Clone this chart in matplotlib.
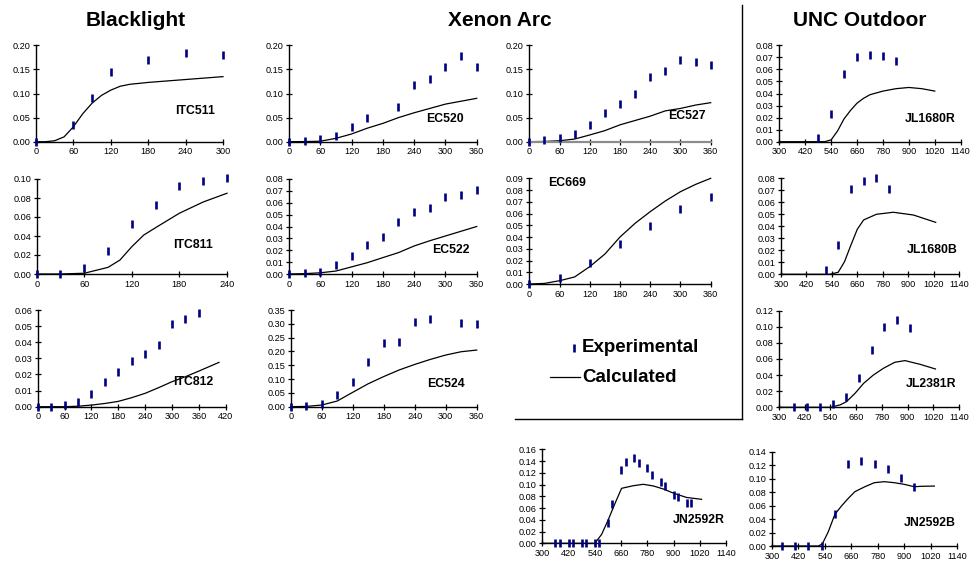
import numpy as np
import matplotlib
matplotlib.use("Agg")
import matplotlib.pyplot as plt
from matplotlib.lines import Line2D

plt.rcParams['font.family'] = ['Liberation Sans', 'DejaVu Sans']

W, H = 973, 565

# ---------------- data ----------------
# Blacklight
itc511_exp_t = [0, 60, 90, 120, 180, 240, 300]
itc511_exp_y = [0.0, 0.035, 0.090, 0.144, 0.170, 0.185, 0.179]
itc511_calc_t = [0, 15, 30, 45, 60, 75, 90, 105, 120, 135, 150, 165, 180, 210, 240, 270, 300]
itc511_calc_y = [0, 0, 0.002, 0.010, 0.031, 0.058, 0.080, 0.096, 0.107, 0.115, 0.119, 0.121,
                 0.123, 0.126, 0.129, 0.132, 0.135]

itc811_exp_t = [0, 30, 60, 90, 120, 150, 180, 210, 240]
itc811_exp_y = [0.0, 0.0, 0.006, 0.024, 0.053, 0.073, 0.093, 0.098, 0.101]
itc811_calc_t = [0, 30, 60, 90, 105, 120, 135, 150, 180, 210, 240]
itc811_calc_y = [0, 0, 0.0008, 0.007, 0.0147, 0.0288, 0.041, 0.0488, 0.064, 0.0758, 0.085]

itc812_exp_t = [0, 30, 60, 90, 120, 150, 180, 210, 240, 270, 300, 330, 360]
itc812_exp_y = [0.0, 0.0, 0.001, 0.0027, 0.0079, 0.0155, 0.0217, 0.0283, 0.0325, 0.0383,
                0.0513, 0.0542, 0.0583]
itc812_calc_t = [0, 60, 90, 120, 150, 180, 210, 240, 270, 300, 330, 360, 405]
itc812_calc_y = [0, 0, 0.0003, 0.001, 0.002, 0.0033, 0.0056, 0.0083, 0.0118, 0.0155, 0.0186,
                 0.0221, 0.0275]

# Xenon Arc
ec520_exp_t = [0, 30, 60, 90, 120, 150, 210, 240, 270, 300, 330, 360]
ec520_exp_y = [0.0, 0.001, 0.005, 0.012, 0.031, 0.050, 0.073, 0.118, 0.130, 0.154, 0.178, 0.154]
ec520_calc_t = [0, 30, 60, 90, 120, 150, 180, 210, 240, 270, 300, 330, 360]
ec520_calc_y = [0, 0.0003, 0.001, 0.007, 0.016, 0.028, 0.038, 0.050, 0.060, 0.069, 0.078,
                0.084, 0.090]

ec527_exp_t = [0, 30, 60, 90, 120, 150, 180, 210, 240, 270, 300, 330, 360]
ec527_exp_y = [0.0, 0.003, 0.007, 0.016, 0.035, 0.059, 0.078, 0.100, 0.135, 0.147, 0.170,
               0.165, 0.160]
ec527_calc_t = [0, 30, 60, 90, 120, 150, 180, 210, 240, 270, 300, 330, 360]
ec527_calc_y = [0, 0.0005, 0.002, 0.0055, 0.014, 0.023, 0.035, 0.044, 0.053, 0.064, 0.069,
                0.076, 0.081]

ec522_exp_t = [0, 30, 60, 90, 120, 150, 180, 210, 240, 270, 300, 330, 360]
ec522_exp_y = [0.0, 0.0006, 0.0014, 0.008, 0.0154, 0.0244, 0.031, 0.0435, 0.052, 0.056,
               0.065, 0.0665, 0.071]
ec522_calc_t = [0, 30, 60, 90, 120, 150, 180, 210, 240, 270, 300, 330, 360]
ec522_calc_y = [0, 0.0003, 0.001, 0.0025, 0.006, 0.0095, 0.0138, 0.018, 0.0236, 0.028,
                0.032, 0.036, 0.040]

ec669_exp_t = [0, 60, 120, 180, 240, 300, 360]
ec669_exp_y = [0.0, 0.0054, 0.0176, 0.034, 0.049, 0.064, 0.074]
ec669_calc_t = [0, 30, 60, 90, 120, 150, 180, 210, 240, 270, 300, 330, 360]
ec669_calc_y = [0, 0.0005, 0.0028, 0.006, 0.0148, 0.0255, 0.040, 0.0517, 0.0616, 0.0707,
                0.0786, 0.0848, 0.090]

ec524_exp_t = [0, 30, 60, 90, 120, 150, 180, 210, 240, 270, 330, 360]
ec524_exp_y = [0.0, 0.0024, 0.011, 0.042, 0.0905, 0.163, 0.229, 0.233, 0.308, 0.317, 0.304,
               0.298]
ec524_calc_t = [0, 30, 60, 90, 120, 150, 180, 210, 240, 270, 300, 330, 360]
ec524_calc_y = [0, 0.001, 0.006, 0.0205, 0.052, 0.083, 0.109, 0.133, 0.153, 0.171, 0.187,
                0.199, 0.205]

# UNC Outdoor
jl1680r_exp_t = [480, 540, 600, 660, 720, 780, 840]
jl1680r_exp_y = [0.0028, 0.023, 0.056, 0.0706, 0.072, 0.071, 0.067]
jl1680r_calc_t = [300, 420, 510, 540, 570, 600, 630, 660, 690, 720, 780, 840, 900, 960, 1020]
jl1680r_calc_y = [0, 0, 0, 0.0015, 0.009, 0.019, 0.026, 0.032, 0.036, 0.039, 0.042, 0.044,
                  0.045, 0.044, 0.042]

jl1680b_exp_t = [510, 570, 630, 690, 750, 810]
jl1680b_exp_y = [0.0036, 0.0244, 0.0708, 0.0778, 0.080, 0.0708]
jl1680b_calc_t = [300, 420, 530, 570, 600, 630, 660, 690, 750, 830, 925, 1030]
jl1680b_calc_y = [0, 0, 0, 0.0017, 0.0106, 0.0244, 0.0375, 0.0453, 0.050, 0.0517, 0.0494,
                  0.0433]

jl2381r_exp_t = [372, 432, 492, 552, 612, 672, 732, 792, 852, 912]
jl2381r_exp_y = [0.0, 0.0, 0.0, 0.0037, 0.0132, 0.036, 0.071, 0.0993, 0.109, 0.0989]
jl2381r_calc_t = [300, 420, 540, 585, 615, 655, 695, 740, 787, 840, 888, 958, 1030]
jl2381r_calc_y = [0, 0, 0, 0.003, 0.007, 0.0174, 0.0298, 0.040, 0.0484, 0.0559, 0.058,
                  0.0534, 0.0476]

jn2592r_exp_t = [360, 380, 420, 440, 480, 500, 540, 560, 600, 620, 660, 680, 720, 740,
                 780, 800, 840, 860, 900, 920, 960, 980]
jn2592r_exp_y = [0, 0, 0, 0, 0, 0, 0, 0, 0.035, 0.067, 0.125, 0.139, 0.145, 0.136,
                 0.128, 0.117, 0.105, 0.098, 0.083, 0.078, 0.069, 0.069]
jn2592r_calc_t = [300, 420, 540, 571, 601, 632, 662, 715, 761, 807, 852, 901, 959, 1027]
jn2592r_calc_y = [0, 0, 0, 0.0153, 0.040, 0.068, 0.0936, 0.098, 0.1004, 0.0976, 0.0925,
                  0.085, 0.078, 0.0749]

jn2592b_exp_t = [345, 405, 465, 525, 585, 645, 705, 765, 825, 885, 945]
jn2592b_exp_y = [0, 0, 0, 0, 0.047, 0.1217, 0.1267, 0.1217, 0.1138, 0.1004, 0.088]
jn2592b_calc_t = [300, 420, 510, 528, 555, 585, 615, 646, 676, 721, 764, 809, 854, 900,
                  945, 975, 1036]
jn2592b_calc_y = [0, 0, 0, 0.003, 0.021, 0.047, 0.0594, 0.0708, 0.0807, 0.088, 0.094,
                  0.0955, 0.094, 0.0915, 0.088, 0.0886, 0.089]

group_titles = ["Blacklight", "Xenon Arc", "UNC Outdoor"]

# ---------------- layout helpers ----------------
fig = plt.figure(figsize=(W / 100, H / 100), dpi=100)


def add_axes_px(l, t, r, b):
    return fig.add_axes([l / W, 1 - b / H, (r - l) / W, (b - t) / H])


EXP_COLOR = "#000080"
MS, MEW = 5.6, 1.9


def panel(box, name, exp_t, exp_y, calc_t, calc_y, xlim, xstep, ylim, ystep, lab_pos,
          lab_ha="center", bottom_color="black"):
    ax = add_axes_px(*box)
    ax.plot(calc_t, calc_y, color="black", lw=0.9, zorder=2, clip_on=False)
    ax.plot(exp_t, exp_y, ls="none", marker="|", ms=MS, mew=MEW, color=EXP_COLOR,
            zorder=3, clip_on=False)
    ax.set_xlim(*xlim)
    ax.set_ylim(*ylim)
    ax.set_xticks(np.arange(xlim[0], xlim[1] + 1e-9, xstep))
    ax.set_yticks(np.arange(ylim[0], ylim[1] + 1e-9, ystep))
    ax.yaxis.set_major_formatter(matplotlib.ticker.FormatStrFormatter("%.2f"))
    ax.xaxis.set_major_formatter(matplotlib.ticker.FormatStrFormatter("%d"))
    for s in ("top", "right"):
        ax.spines[s].set_visible(False)
    ax.spines["left"].set_linewidth(1.0)
    ax.spines["bottom"].set_linewidth(1.0 if bottom_color == "black" else 1.6)
    ax.spines["bottom"].set_color(bottom_color)
    ax.tick_params(axis="both", direction="inout", length=4, width=0.9,
                   labelsize=6.6, pad=2, colors="black")
    ax.patch.set_alpha(0)
    ax.text(lab_pos[0], lab_pos[1], name, transform=ax.transAxes, ha=lab_ha, va="center",
            fontsize=8.8, fontweight="bold")
    return ax


# Row 1
panel((36, 45.3, 223, 141.7), "ITC511", itc511_exp_t, itc511_exp_y, itc511_calc_t,
      itc511_calc_y, (0, 300), 60, (0, 0.20), 0.05, (0.85, 0.32))
panel((289, 45.3, 476.7, 141.7), "EC520", ec520_exp_t, ec520_exp_y, ec520_calc_t,
      ec520_calc_y, (0, 360), 60, (0, 0.20), 0.05, (0.83, 0.24))
panel((529.3, 45.3, 710.7, 141.7), "EC527", ec527_exp_t, ec527_exp_y, ec527_calc_t,
      ec527_calc_y, (0, 360), 60, (0, 0.20), 0.05, (0.87, 0.27), bottom_color="#8c8c8c")
panel((779.3, 45.3, 960.7, 141.7), "JL1680R", jl1680r_exp_t, jl1680r_exp_y, jl1680r_calc_t,
      jl1680r_calc_y, (300, 1140), 120, (0, 0.08), 0.01, (0.83, 0.24))

# Row 2
panel((36.7, 179, 227, 274), "ITC811", itc811_exp_t, itc811_exp_y, itc811_calc_t,
      itc811_calc_y, (0, 240), 60, (0, 0.10), 0.02, (0.82, 0.30))
panel((289, 179, 476.7, 274), "EC522", ec522_exp_t, ec522_exp_y, ec522_calc_t,
      ec522_calc_y, (0, 360), 60, (0, 0.08), 0.01, (0.86, 0.25))
panel((529.3, 178.3, 710.7, 284), "EC669", ec669_exp_t, ec669_exp_y, ec669_calc_t,
      ec669_calc_y, (0, 360), 60, (0, 0.09), 0.01, (0.21, 0.96))
panel((781, 178.3, 959, 274.3), "JL1680B", jl1680b_exp_t, jl1680b_exp_y, jl1680b_calc_t,
      jl1680b_calc_y, (300, 1140), 120, (0, 0.08), 0.01, (0.85, 0.25))

# Row 3
panel((37.7, 310, 225.7, 406.7), "ITC812", itc812_exp_t, itc812_exp_y, itc812_calc_t,
      itc812_calc_y, (0, 420), 60, (0, 0.06), 0.01, (0.83, 0.26))
panel((290.7, 310, 476.7, 406.7), "EC524", ec524_exp_t, ec524_exp_y, ec524_calc_t,
      ec524_calc_y, (0, 360), 60, (0, 0.35), 0.05, (0.835, 0.23))
panel((779, 310.7, 959, 407.3), "JL2381R", jl2381r_exp_t, jl2381r_exp_y, jl2381r_calc_t,
      jl2381r_calc_y, (300, 1140), 120, (0, 0.12), 0.02, (0.845, 0.24))

# Row 4
panel((542.3, 449.3, 726.3, 543.3), "JN2592R", jn2592r_exp_t, jn2592r_exp_y, jn2592r_calc_t,
      jn2592r_calc_y, (300, 1140), 120, (0, 0.16), 0.02, (0.85, 0.25))
panel((772, 451.7, 957.3, 546), "JN2592B", jn2592b_exp_t, jn2592b_exp_y, jn2592b_calc_t,
      jn2592b_calc_y, (300, 1140), 120, (0, 0.14), 0.02, (0.85, 0.24))

# Group titles
for title, xc in zip(group_titles, [136, 500, 860]):
    fig.text(xc / W, 1 - 20 / H, title, ha="center", va="center", fontsize=15,
             fontweight="bold")

# Separator lines
fig.add_artist(Line2D([742 / W, 742 / W], [1 - 5 / H, 1 - 419 / H], color="black", lw=1.0))
fig.add_artist(Line2D([515 / W, 742 / W], [1 - 419 / H, 1 - 419 / H], color="black", lw=1.0))

# Legend
fig.add_artist(Line2D([574 / W], [1 - 348 / H], ls="none", marker="|", ms=MS, mew=MEW,
                      color=EXP_COLOR))
fig.text(582 / W, 1 - 348 / H, "Experimental", ha="left", va="center", fontsize=13.5,
         fontweight="bold")
fig.add_artist(Line2D([550 / W, 580 / W], [1 - 377 / H, 1 - 377 / H], color="black", lw=0.9))
fig.text(582 / W, 1 - 377 / H, "Calculated", ha="left", va="center", fontsize=13.5,
         fontweight="bold")

fig.savefig("out.png", dpi=100)
